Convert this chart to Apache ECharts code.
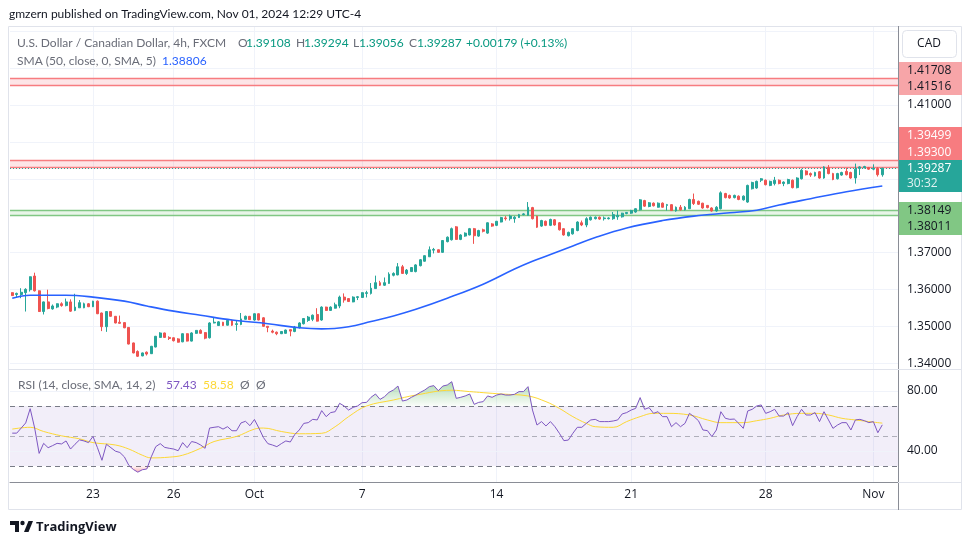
<!DOCTYPE html>
<html><head><meta charset="utf-8">
<script src="https://cdn.jsdelivr.net/npm/echarts@6/dist/echarts.min.js"></script>
<style>html,body{margin:0;padding:0;background:#fff}#c{width:970px;height:545px}</style>
</head><body><div id="c"></div><script>
// ---- data (USD/CAD 4h, FXCM) ----
const opens = [1.3592,1.3587,1.3587,1.3592,1.3600,1.3637,1.3597,1.3541,1.3567,1.3548,
1.3553,1.3562,1.3557,1.3567,1.3544,1.3551,1.3551,1.3562,1.3554,1.3569,
1.3537,1.3500,1.3541,1.3528,1.3512,1.3511,1.3498,1.3456,1.3433,1.3421,
1.3431,1.3427,1.3445,1.3471,1.3483,1.3471,1.3470,1.3467,1.3459,1.3481,
1.3461,1.3482,1.3490,1.3484,1.3470,1.3510,1.3503,1.3512,1.3504,1.3517,
1.3506,1.3506,1.3520,1.3528,1.3518,1.3535,1.3524,1.3501,1.3488,1.3485,
1.3481,1.3482,1.3492,1.3487,1.3497,1.3508,1.3517,1.3520,1.3533,1.3518,
1.3553,1.3544,1.3550,1.3556,1.3580,1.3576,1.3567,1.3579,1.3579,1.3590,
1.3590,1.3603,1.3619,1.3612,1.3617,1.3639,1.3640,1.3662,1.3644,1.3649,
1.3649,1.3665,1.3677,1.3689,1.3707,1.3708,1.3701,1.3730,1.3735,1.3770,
1.3736,1.3745,1.3748,1.3765,1.3745,1.3762,1.3753,1.3778,1.3774,1.3783,
1.3794,1.3792,1.3792,1.3795,1.3803,1.3801,1.3822,1.3799,1.3772,1.3785,
1.3774,1.3789,1.3781,1.3765,1.3746,1.3751,1.3760,1.3781,1.3775,1.3789,
1.3792,1.3796,1.3792,1.3792,1.3792,1.3797,1.3797,1.3806,1.3807,1.3810,
1.3816,1.3841,1.3825,1.3834,1.3823,1.3834,1.3828,1.3830,1.3813,1.3823,
1.3816,1.3819,1.3844,1.3839,1.3834,1.3828,1.3821,1.3813,1.3819,1.3860,
1.3855,1.3849,1.3853,1.3843,1.3837,1.3873,1.3875,1.3896,1.3896,1.3882,
1.3887,1.3896,1.3887,1.3887,1.3896,1.3876,1.3900,1.3921,1.3914,1.3908,
1.3919,1.3902,1.3930,1.3914,1.3900,1.3910,1.3920,1.3917,1.3902,1.3928,
1.3930,1.3930,1.3926,1.3928,1.39108];
const closes = [1.3584,1.3590,1.3593,1.3601,1.3635,1.3597,1.3541,1.3567,1.3549,1.3556,
1.3562,1.3557,1.3567,1.3542,1.3553,1.3565,1.3562,1.3554,1.3569,1.3535,
1.3500,1.3541,1.3528,1.3510,1.3509,1.3497,1.3453,1.3429,1.3420,1.3429,
1.3426,1.3447,1.3474,1.3483,1.3471,1.3468,1.3462,1.3458,1.3481,1.3461,
1.3483,1.3490,1.3482,1.3469,1.3510,1.3512,1.3513,1.3503,1.3517,1.3504,
1.3508,1.3521,1.3528,1.3519,1.3535,1.3518,1.3501,1.3498,1.3485,1.3481,
1.3487,1.3491,1.3488,1.3499,1.3510,1.3522,1.3526,1.3531,1.3515,1.3553,
1.3544,1.3553,1.3559,1.3580,1.3572,1.3568,1.3580,1.3581,1.3592,1.3592,
1.3604,1.3619,1.3612,1.3619,1.3642,1.3644,1.3662,1.3644,1.3653,1.3660,
1.3667,1.3681,1.3692,1.3708,1.3709,1.3701,1.3733,1.3742,1.3765,1.3736,
1.3748,1.3753,1.3765,1.3746,1.3760,1.3758,1.3781,1.3772,1.3785,1.3795,
1.3792,1.3799,1.3796,1.3803,1.3805,1.3823,1.3792,1.3769,1.3787,1.3774,
1.3790,1.3775,1.3762,1.3748,1.3755,1.3765,1.3783,1.3775,1.3792,1.3796,
1.3796,1.3791,1.3794,1.3794,1.3803,1.3801,1.3807,1.3809,1.3814,1.3819,
1.3843,1.3826,1.3835,1.3827,1.3834,1.3823,1.3830,1.3814,1.3823,1.3816,
1.3823,1.3844,1.3833,1.3831,1.3821,1.3822,1.3813,1.3823,1.3862,1.3849,
1.3848,1.3855,1.3844,1.3853,1.3882,1.3890,1.3893,1.3900,1.3884,1.3893,
1.3896,1.3887,1.3891,1.3898,1.3876,1.3902,1.3923,1.3911,1.3910,1.3917,
1.3902,1.3932,1.3914,1.3898,1.3914,1.3917,1.3911,1.3902,1.3926,1.3932,
1.3933,1.3926,1.3928,1.3911,1.39287];
const lows = [1.3583,1.3580,1.3577,1.3541,1.3595,1.3595,1.3540,1.3533,1.3547,1.3546,
1.3550,1.3554,1.3555,1.3540,1.3542,1.3551,1.3550,1.3553,1.3553,1.3534,
1.3488,1.3486,1.3527,1.3509,1.3508,1.3496,1.3452,1.3428,1.3418,1.3420,
1.3422,1.3426,1.3444,1.3470,1.3470,1.3464,1.3460,1.3457,1.3458,1.3460,
1.3460,1.3481,1.3481,1.3466,1.3468,1.3509,1.3502,1.3502,1.3503,1.3502,
1.3489,1.3504,1.3519,1.3518,1.3516,1.3517,1.3500,1.3485,1.3482,1.3477,
1.3480,1.3481,1.3474,1.3485,1.3495,1.3506,1.3513,1.3515,1.3514,1.3516,
1.3543,1.3543,1.3549,1.3550,1.3565,1.3567,1.3566,1.3572,1.3578,1.3579,
1.3587,1.3602,1.3610,1.3610,1.3616,1.3636,1.3639,1.3643,1.3640,1.3648,
1.3647,1.3663,1.3676,1.3689,1.3698,1.3700,1.3700,1.3728,1.3733,1.3735,
1.3734,1.3743,1.3747,1.3724,1.3743,1.3755,1.3751,1.3770,1.3772,1.3782,
1.3787,1.3787,1.3781,1.3794,1.3801,1.3800,1.3790,1.3767,1.3770,1.3772,
1.3772,1.3773,1.3760,1.3746,1.3744,1.3749,1.3758,1.3772,1.3769,1.3787,
1.3790,1.3789,1.3787,1.3790,1.3789,1.3789,1.3795,1.3804,1.3805,1.3808,
1.3814,1.3824,1.3823,1.3825,1.3822,1.3822,1.3814,1.3813,1.3811,1.3814,
1.3814,1.3818,1.3829,1.3829,1.3819,1.3820,1.3811,1.3811,1.3817,1.3847,
1.3846,1.3847,1.3842,1.3841,1.3835,1.3871,1.3873,1.3891,1.3882,1.3880,
1.3882,1.3885,1.3880,1.3885,1.3874,1.3874,1.3898,1.3909,1.3905,1.3906,
1.3900,1.3900,1.3912,1.3896,1.3898,1.3908,1.3909,1.3900,1.3887,1.3910,
1.3928,1.3924,1.3923,1.3906,1.39056];
const highs = [1.3593,1.3592,1.3604,1.3604,1.3636,1.3646,1.3598,1.3568,1.3600,1.3560,
1.3563,1.3566,1.3576,1.3574,1.3589,1.3572,1.3565,1.3564,1.3570,1.3571,
1.3538,1.3542,1.3542,1.3529,1.3530,1.3512,1.3499,1.3457,1.3436,1.3430,
1.3433,1.3448,1.3475,1.3485,1.3484,1.3474,1.3471,1.3469,1.3482,1.3482,
1.3485,1.3491,1.3493,1.3485,1.3512,1.3524,1.3515,1.3513,1.3518,1.3519,
1.3517,1.3537,1.3530,1.3529,1.3536,1.3536,1.3526,1.3501,1.3492,1.3487,
1.3488,1.3492,1.3492,1.3502,1.3512,1.3523,1.3529,1.3533,1.3550,1.3555,
1.3554,1.3555,1.3565,1.3584,1.3590,1.3577,1.3582,1.3583,1.3593,1.3597,
1.3618,1.3638,1.3624,1.3633,1.3647,1.3647,1.3672,1.3667,1.3656,1.3661,
1.3669,1.3683,1.3693,1.3717,1.3713,1.3709,1.3734,1.3744,1.3768,1.3772,
1.3750,1.3755,1.3767,1.3767,1.3762,1.3765,1.3782,1.3780,1.3786,1.3797,
1.3799,1.3803,1.3799,1.3805,1.3807,1.3837,1.3824,1.3800,1.3789,1.3787,
1.3792,1.3791,1.3783,1.3766,1.3757,1.3766,1.3785,1.3787,1.3796,1.3798,
1.3798,1.3798,1.3798,1.3796,1.3810,1.3814,1.3808,1.3810,1.3816,1.3820,
1.3845,1.3843,1.3837,1.3836,1.3836,1.3836,1.3832,1.3831,1.3825,1.3829,
1.3826,1.3846,1.3860,1.3841,1.3835,1.3829,1.3823,1.3826,1.3866,1.3862,
1.3857,1.3857,1.3855,1.3855,1.3884,1.3892,1.3895,1.3902,1.3898,1.3895,
1.3905,1.3898,1.3893,1.3900,1.3898,1.3904,1.3927,1.3923,1.3917,1.3919,
1.3921,1.3934,1.3937,1.3916,1.3916,1.3919,1.3929,1.3919,1.3941,1.3934,
1.3935,1.3932,1.3939,1.3931,1.39294];
// SMA(50) read at sample bars: [bar index, value]
const smaSamples = [[0,1.3577],[4,1.3585],[12,1.3585],[18,1.3580],[25,1.3569],[30,1.3556],[36,1.3542],
[42,1.3531],[49,1.3518],[57,1.3508],[64,1.3497],[69,1.3494],[75,1.3500],[80,1.3514],[85,1.3529],
[90,1.3547],[97,1.3577],[105,1.3615],[112,1.3656],[116,1.3677],[120,1.3695],[125,1.3718],[130,1.3741],
[137,1.3767],[145,1.3787],[152,1.3799],[160,1.3808],[166,1.3815],[171,1.3829],[178,1.3846],[186,1.3865],[194,1.38806]];
const rsiValues = [51.9,51.9,55.3,58.7,68.2,55.3,38.4,45.1,42.2,43.6,
45.1,44.7,46.7,41.3,44.5,47.4,46.7,45.6,49.7,42.2,
33.8,44.5,42.2,39.9,39.0,36.1,30.4,27.7,25.9,27.5,
28.0,36.1,42.9,44.9,42.4,41.8,41.3,40.2,45.6,42.2,
46.3,45.6,44.0,41.8,55.3,55.8,56.2,54.6,56.2,53.5,
53.5,58.7,59.8,56.9,61.0,55.3,49.0,44.9,44.0,42.9,
44.9,46.7,46.0,51.0,54.0,58.4,58.9,61.1,60.7,66.9,
62.9,65.6,66.2,71.8,70.0,67.3,69.1,70.0,72.2,72.4,
75.8,78.0,74.4,76.2,79.1,80.7,83.3,73.3,74.0,75.8,
77.3,79.1,80.7,82.9,83.6,80.2,83.3,84.0,86.2,75.1,
75.8,76.7,78.0,71.1,72.4,72.9,76.7,75.8,77.3,78.0,
77.3,77.3,77.8,79.6,79.6,82.9,67.3,57.3,59.6,56.7,
59.6,56.2,51.8,46.9,47.3,51.8,55.8,55.8,58.4,60.7,
61.1,59.6,59.6,59.6,60.0,60.7,64.7,65.6,67.3,68.4,
75.6,67.8,68.9,65.1,66.2,62.9,62.9,56.2,58.9,56.2,
58.4,65.1,62.9,60.2,54.0,53.6,49.6,54.0,66.2,61.8,
61.1,61.3,58.4,55.1,66.7,67.8,70.0,70.7,65.1,66.2,
67.8,63.3,63.3,65.6,56.9,62.9,67.8,64.0,64.0,65.6,
59.6,66.2,60.7,55.1,57.3,58.9,58.9,54.0,60.7,61.1,
60.2,58.9,59.6,52.2,57.43];
const rsiMaSamples = [[0,54.6],[4,55.8],[7,53.0],[11,50.1],[15,48.1],[18,45.6],[23,44.0],[26,41.3],
[29,37.2],[31,35.4],[35,35.9],[38,37.2],[42,41.8],[45,46.3],[50,49.7],[54,54.6],[56,55.3],[60,53.0],
[64,51.5],[69,51.8],[72,56.2],[75,62.9],[79,70.0],[85,74.0],[90,77.3],[98,80.5],[102,79.6],[105,78.9],
[109,78.0],[115,76.7],[119,72.9],[122,68.4],[125,62.9],[128,58.4],[130,56.2],[134,55.8],[137,59.6],
[140,62.9],[143,65.1],[146,65.1],[151,64.0],[155,60.7],[158,58.9],[163,58.9],[166,60.2],[169,61.8],
[172,64.0],[176,65.1],[179,65.1],[182,64.0],[185,61.8],[188,60.7],[191,59.6],[194,58.58]];
const redZoneHigh = [1.41516, 1.41708];
const redZoneMid = [1.39300, 1.39499];
const greenZone = [1.38011, 1.38149];
const lastPrice = 1.39287;
const tickDates = ['2024-09-23','2024-09-26','2024-10-01','2024-10-07','2024-10-14','2024-10-21','2024-10-28','2024-11-01'];
const tickLabels = ['23','26','Oct','7','14','21','28','Nov'];

// ---- bar times: 4h FX session bars (closed Fri 17:00 -> Sun 17:00) ----
function buildTimes(count){
  const out=[]; let t=Date.UTC(2024,8,18,1,0);
  while(out.length<count){
    const d=new Date(t), wd=d.getUTCDay(), h=d.getUTCHours();
    const closed=(wd===5&&h>=17)||wd===6||(wd===0&&h<17);
    if(!closed) out.push(d.toISOString().slice(0,10)+' '+String(h).padStart(2,'0')+':00');
    t+=4*3600*1000;
  }
  return out;
}
const SLOTS = 198;
const categories = buildTimes(SLOTS);
const tickMap = {};
tickDates.forEach((d,k)=>{ tickMap[d+' 01:00'] = tickLabels[k]; });
const isTick = (i, v) => tickMap[v] !== undefined;

const candles = opens.map((o,i)=>[o, closes[i], lows[i], highs[i]]);
const rsiOver = rsiValues.map(v=>Math.max(v,70));
const rsiUnder = rsiValues.map(v=>Math.min(v,30));

const FONT = 'Open Sans';
const LFONT = 'Lato';
const TXT = '#131722';
const GRID = '#f0f3fa';

const chart = echarts.init(document.getElementById('c'), null, {renderer:'canvas'});
const G = echarts.graphic;

const option = {
  animation:false,
  backgroundColor:'#ffffff',
  textStyle:{fontFamily:FONT},
  grid:[
    {left:10, right:72, top:26, height:343},
    {left:10, right:72, top:370, height:112}
  ],
  xAxis:[
    {type:'category', gridIndex:0, data:categories, boundaryGap:true,
     axisLine:{show:false}, axisTick:{show:false}, axisLabel:{show:false},
     splitLine:{show:true, interval:isTick, alignWithLabel:true, lineStyle:{color:GRID, width:1}}},
    {type:'category', gridIndex:1, data:categories, boundaryGap:true,
     axisLine:{show:true, lineStyle:{color:'#8a8d96', width:1}}, axisTick:{show:false},
     axisLabel:{show:true, interval:isTick, formatter:v=>tickMap[v]||'', color:TXT, fontSize:12, fontFamily:FONT, margin:7},
     splitLine:{show:true, interval:isTick, alignWithLabel:true, lineStyle:{color:GRID, width:1}}}
  ],
  yAxis:[
    {type:'value', gridIndex:0, position:'right', min:1.338556, max:1.431309, splitNumber:9, scale:true,
     axisLine:{show:false}, axisTick:{show:false},
     axisLabel:{color:TXT, fontSize:12, fontFamily:FONT, margin:9, showMinLabel:false, showMaxLabel:false,
       formatter:v=>(v>1.425?'':v.toFixed(5))},
     splitLine:{show:true, lineStyle:{color:GRID, width:1}}},
    {type:'value', gridIndex:1, position:'right', min:19.33, max:94,
     axisLine:{show:false}, axisTick:{show:false},
     axisLabel:{color:TXT, fontSize:12, fontFamily:FONT, margin:9, customValues:[40,80], formatter:v=>v.toFixed(2)},
     splitLine:{show:false}}
  ],
  series:[
    {type:'candlestick', name:'USDCAD', xAxisIndex:0, yAxisIndex:0, data:candles, barWidth:2.4, z:3,
     itemStyle:{color:'#26a69a', color0:'#ef5350', borderColor:'#26a69a', borderColor0:'#ef5350', borderWidth:1}},
    {type:'line', name:'SMA', xAxisIndex:0, yAxisIndex:0, data:smaSamples, smooth:0.4, symbol:'none', z:4,
     lineStyle:{color:'#2962ff', width:1.6},
     markArea:{silent:true, z:1, data:[
       [{yAxis:redZoneHigh[0], itemStyle:{color:'rgba(242,54,69,0.13)'}},{yAxis:redZoneHigh[1]}],
       [{yAxis:redZoneMid[0], itemStyle:{color:'rgba(242,54,69,0.13)'}},{yAxis:redZoneMid[1]}],
       [{yAxis:greenZone[0], itemStyle:{color:'rgba(76,175,80,0.13)'}},{yAxis:greenZone[1]}]
     ]},
     markLine:{silent:true, precision:5, symbol:['none','none'], label:{show:false}, z:2, data:[
       {yAxis:redZoneHigh[0], lineStyle:{color:'#f77c80', width:1.3, type:'solid'}},
       {yAxis:redZoneHigh[1], lineStyle:{color:'#f77c80', width:1.3, type:'solid'}},
       {yAxis:redZoneMid[0], lineStyle:{color:'#f77c80', width:1.3, type:'solid'}},
       {yAxis:redZoneMid[1], lineStyle:{color:'#f77c80', width:1.3, type:'solid'}},
       {yAxis:greenZone[0], lineStyle:{color:'#81c784', width:1.3, type:'solid'}},
       {yAxis:greenZone[1], lineStyle:{color:'#81c784', width:1.3, type:'solid'}},
       {yAxis:lastPrice, lineStyle:{color:'#26a69a', width:1, type:[1,2]}}
     ]}},
    {type:'line', name:'OB', xAxisIndex:1, yAxisIndex:1, data:rsiOver, symbol:'none', z:2,
     lineStyle:{width:0, opacity:0},
     areaStyle:{origin:70, opacity:1, color:new G.LinearGradient(0,0,0,1,[{offset:0,color:'rgba(76,175,80,0.45)'},{offset:1,color:'rgba(76,175,80,0.03)'}])}},
    {type:'line', name:'OS', xAxisIndex:1, yAxisIndex:1, data:rsiUnder, symbol:'none', z:2,
     lineStyle:{width:0, opacity:0},
     areaStyle:{origin:30, opacity:1, color:new G.LinearGradient(0,0,0,1,[{offset:0,color:'rgba(242,54,69,0.03)'},{offset:1,color:'rgba(242,54,69,0.4)'}])}},
    {type:'line', name:'RSI', xAxisIndex:1, yAxisIndex:1, data:rsiValues, symbol:'none', z:4,
     lineStyle:{color:'#7e57c2', width:1},
     markArea:{silent:true, z:1, itemStyle:{color:'rgba(126,87,194,0.1)'}, data:[[{yAxis:30},{yAxis:70}]]},
     markLine:{silent:true, precision:2, symbol:['none','none'], label:{show:false}, z:1, data:[
       {yAxis:80, lineStyle:{color:GRID, width:1, type:'solid'}},
       {yAxis:40, lineStyle:{color:GRID, width:1, type:'solid'}},
       {yAxis:70, lineStyle:{color:'#787b86', width:1, type:[5,4]}},
       {yAxis:50, lineStyle:{color:'rgba(120,123,134,0.55)', width:1, type:[5,4]}},
       {yAxis:30, lineStyle:{color:'#787b86', width:1, type:[5,4]}}
     ]}},
    {type:'line', name:'RSI MA', xAxisIndex:1, yAxisIndex:1, data:rsiMaSamples, smooth:0.4, symbol:'none', z:3,
     lineStyle:{color:'#fdd835', width:1}}
  ],
  graphic:[]
};
chart.setOption(option);

// ---- decorations: header, legends, price boxes, frame ----
const gray = '#6a6d78', teal = '#089981';
const fontS = (s,w,f)=> (w||'normal')+' '+s+'px "'+(f||FONT)+'"';
const LS = 12;
const lt = (x,y,text,fill)=>({type:'text', x:x, y:y, style:{text:text, font:fontS(LS,'normal',LFONT), fill:fill, verticalAlign:'middle'}, z:60});
const els = [
  {type:'rect', shape:{x:8.5,y:26.5,width:953,height:483}, style:{fill:'none', stroke:'#e0e3eb', lineWidth:1}, z:50},
  {type:'line', shape:{x1:898.5,y1:26,x2:898.5,y2:510}, style:{stroke:'#8a8d96', lineWidth:1}, z:50},
  {type:'line', shape:{x1:8,y1:369.5,x2:962,y2:369.5}, style:{stroke:'#e0e3eb', lineWidth:1}, z:50},
  {type:'line', shape:{x1:898,y1:482.5,x2:962,y2:482.5}, style:{stroke:'#e0e3eb', lineWidth:1}, z:50},
  {type:'text', x:9, y:14, style:{text:'gmzern published on TradingView.com, Nov 01, 2024 12:29 UTC-4', font:fontS(12,'normal',LFONT), fill:TXT, verticalAlign:'middle'}, z:60},
  lt(17,43,'U.S. Dollar / Canadian Dollar, 4h, FXCM',gray),
  lt(238,43,'O',gray), lt(246,43,'1.39108',teal),
  lt(296,43,'H',gray), lt(304,43,'1.39294',teal),
  lt(353,43,'L',gray), lt(359,43,'1.39056',teal),
  lt(409,43,'C',gray), lt(417,43,'1.39287',teal),
  lt(466,43,'+0.00179 (+0.13%)',teal),
  lt(17,61,'SMA (50, close, 0, SMA, 5)',gray), lt(162,61,'1.38806','#2962ff'),
  lt(18,385,'RSI (14, close, SMA, 14, 2)',gray), lt(166,385,'57.43','#7e57c2'), lt(203,385,'58.58','#fdd835'),
  lt(240,385,'\u00d8',gray), lt(256,385,'\u00d8',gray),
  // currency box
  {type:'rect', shape:{x:902.5,y:30.5,width:54,height:27,r:4}, style:{fill:'#fff', stroke:'#e0e3eb', lineWidth:1}, z:60},
  {type:'text', x:929, y:44, style:{text:'CAD', font:fontS(12), fill:TXT, align:'center', verticalAlign:'middle'}, z:61},
  // price tag boxes
  {type:'rect', shape:{x:899,y:62,width:63,height:33}, style:{fill:'#f7a5a8'}, z:60},
  {type:'text', x:907, y:70.5, style:{text:redZoneHigh[1].toFixed(5), font:fontS(12), fill:TXT, verticalAlign:'middle'}, z:61},
  {type:'text', x:907, y:87, style:{text:redZoneHigh[0].toFixed(5), font:fontS(12), fill:TXT, verticalAlign:'middle'}, z:61},
  {type:'rect', shape:{x:899,y:127,width:63,height:33}, style:{fill:'#f77c80'}, z:60},
  {type:'text', x:907, y:135.7, style:{text:redZoneMid[1].toFixed(5), font:fontS(12), fill:'#fff', verticalAlign:'middle'}, z:61},
  {type:'text', x:907, y:152.3, style:{text:redZoneMid[0].toFixed(5), font:fontS(12), fill:'#fff', verticalAlign:'middle'}, z:61},
  {type:'rect', shape:{x:899,y:160,width:63,height:32}, style:{fill:'#26a69a'}, z:60},
  {type:'text', x:907, y:168.3, style:{text:lastPrice.toFixed(5), font:fontS(12), fill:'#fff', verticalAlign:'middle'}, z:61},
  {type:'text', x:907, y:183.5, style:{text:'30:32', font:fontS(12), fill:'#e0f2f1', verticalAlign:'middle'}, z:61},
  {type:'rect', shape:{x:899,y:202,width:63,height:33}, style:{fill:'#81c784'}, z:60},
  {type:'text', x:907, y:210.3, style:{text:greenZone[1].toFixed(5), font:fontS(12), fill:TXT, verticalAlign:'middle'}, z:61},
  {type:'text', x:907, y:227, style:{text:greenZone[0].toFixed(5), font:fontS(12), fill:TXT, verticalAlign:'middle'}, z:61},
  // TradingView logo
  {type:'polygon', shape:{points:[[10,521],[19,521],[19,532],[15,532],[15,525],[10,525]]}, style:{fill:TXT}, z:60},
  {type:'circle', shape:{cx:22.5,cy:523,r:2.2}, style:{fill:TXT}, z:60},
  {type:'polygon', shape:{points:[[24,532],[28.5,521],[33,521],[28.5,532]]}, style:{fill:TXT}, z:60},
  {type:'text', x:36, y:527, style:{text:'TradingView', font:fontS(13,'bold'), fill:TXT, verticalAlign:'middle'}, z:60}
];
chart.setOption({graphic:els});
</script></body></html>
